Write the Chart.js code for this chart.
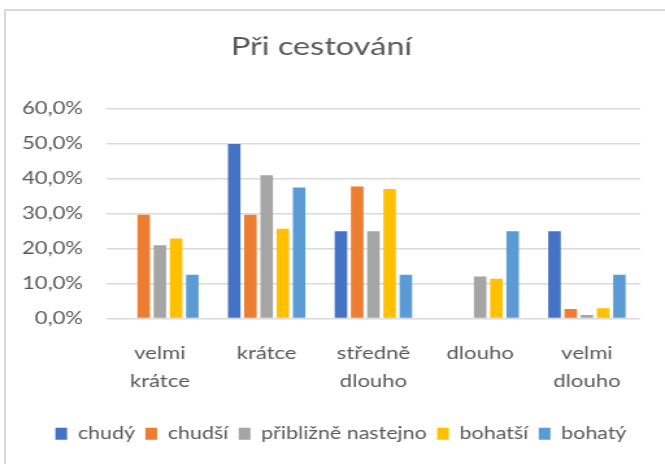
<!DOCTYPE html>
<html>
<head>
<meta charset="utf-8">
<script src="https://cdn.jsdelivr.net/npm/chart.js@4/dist/chart.umd.min.js"></script>
<style>
  html, body { margin: 0; padding: 0; background: #fff; }
  body { width: 665px; height: 464px; overflow: hidden; position: relative; }
  #frame { position: absolute; left: 4px; top: 9px; width: 720px; height: 520px; border: 2px solid #d9d9d9; box-sizing: border-box; }
  /* the reference picture is stretched sideways, so the chart is drawn narrower and widened */
  #wrap { position: absolute; left: 0; top: 0; width: 512px; height: 464px; transform: scaleX(1.2988); transform-origin: 0 0; }
</style>
</head>
<body>
<div id="frame"></div>
<div id="wrap"><canvas id="chart"></canvas></div>
<script>
// categories (multi-line labels) and series values in percent
const categories = [['velmi', 'krátce'], 'krátce', ['středně', 'dlouho'], 'dlouho', ['velmi', 'dlouho']];
const seriesNames = ['chudý', 'chudší', 'přibližně nastejno', 'bohatší', 'bohatý'];
const chudy = [0, 50.0, 25.0, 0, 25.0];
const chudsi = [29.7, 29.7, 37.8, 0, 2.7];
const priblizne = [21.0, 41.0, 25.0, 12.0, 1.0];
const bohatsi = [22.9, 25.7, 37.1, 11.4, 2.9];
const bohaty = [12.5, 37.5, 12.5, 25.0, 12.5];
const colors = ['#4472C4', '#ED7D31', '#A5A5A5', '#FFC000', '#5B9BD5'];

const textColor = '#595959';
const fontFamily = 'Lato, "Noto Sans", sans-serif';

const allSeries = [chudy, chudsi, priblizne, bohatsi, bohaty];
const datasets = allSeries.map((values, i) => ({
    label: seriesNames[i],
    data: values,
    backgroundColor: colors[i],
    borderWidth: 0,
    categoryPercentage: 0.76,
    barPercentage: 0.77
}));

// nudge title and legend sideways, they are not centred on the same line in the original
const nudge = {
    id: 'nudge',
    afterLayout(chart) {
        chart.titleBlock.left -= 3;
        chart.titleBlock.right -= 3;
        chart.legend.left += 12;
        chart.legend.right += 12;
    }
};

new Chart(document.getElementById('chart'), {
    type: 'bar',
    data: { labels: categories, datasets: datasets },
    plugins: [nudge],
    options: {
        responsive: true,
        maintainAspectRatio: false,
        animation: false,
        layout: { padding: { left: 8, right: 19, top: 22, bottom: 12 } },
        plugins: {
            title: {
                display: true,
                text: 'Při cestování',
                color: textColor,
                font: { family: fontFamily, size: 25, weight: 'normal' },
                padding: { top: 10, bottom: 47 }
            },
            legend: {
                position: 'bottom',
                labels: {
                    color: textColor,
                    font: { family: fontFamily, size: 16.5 },
                    boxWidth: 9,
                    boxHeight: 12,
                    padding: 8
                }
            },
            tooltip: { enabled: false }
        },
        scales: {
            x: {
                grid: { display: false },
                border: { display: false },
                ticks: {
                    color: textColor,
                    font: { family: fontFamily, size: 17, lineHeight: 1.65 },
                    padding: 13,
                    maxRotation: 0,
                    autoSkip: false
                },
                afterFit: (scale) => { scale.height = 99; }
            },
            y: {
                min: 0,
                max: 60,
                grid: { color: '#d9d9d9', lineWidth: 1.5, drawTicks: false },
                border: { display: false },
                ticks: {
                    stepSize: 10,
                    color: textColor,
                    font: { family: fontFamily, size: 17 },
                    padding: 18,
                    callback: (v) => v.toFixed(1).replace('.', ',') + '%'
                },
                afterFit: (scale) => { scale.width = 74; }
            }
        }
    }
});
</script>
</body>
</html>
